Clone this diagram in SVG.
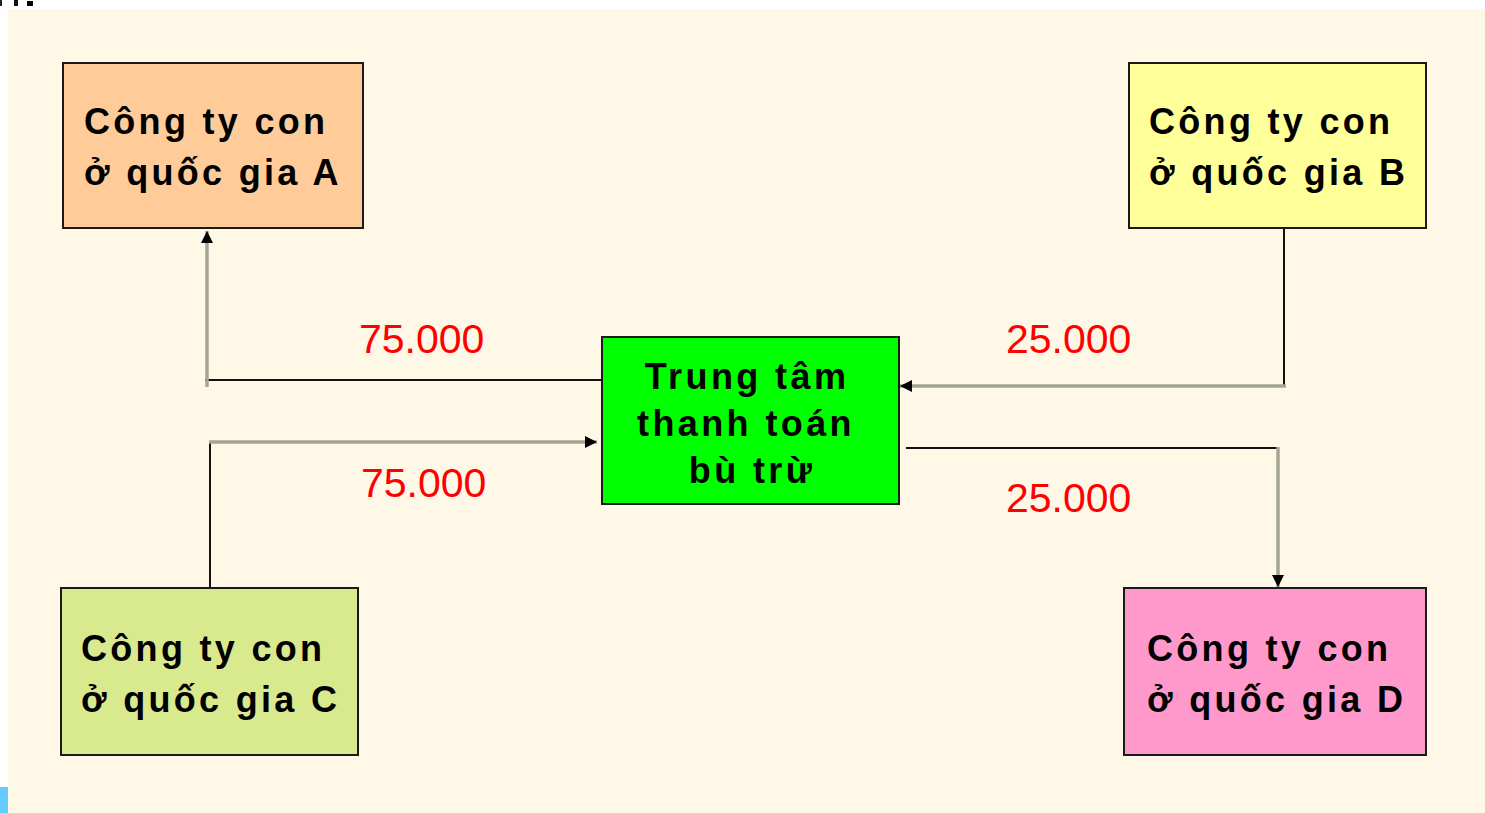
<svg xmlns="http://www.w3.org/2000/svg" width="1485" height="813" viewBox="0 0 1485 813">
<defs>
<style>
.box{stroke:#1a1a1a;stroke-width:2}
.lbl{font-family:"Liberation Sans",Arial,sans-serif;font-weight:bold;font-size:36px;letter-spacing:3.3px;fill:#000}
.ctr{letter-spacing:3.4px}
.num{font-family:"Liberation Sans",Arial,sans-serif;font-size:41px;fill:#FF0000}
.blk{stroke:#111;stroke-width:2;fill:none}
.gry{stroke:#A5A594;stroke-width:3.5;fill:none}
</style>
<marker id="ah" viewBox="0 0 10 10" refX="10" refY="5" markerWidth="12" markerHeight="12" markerUnits="userSpaceOnUse" orient="auto">
<path d="M0,0 L10,5 L0,10 z" fill="#000"/>
</marker>
</defs>
<rect x="0" y="0" width="1485" height="813" fill="#fff"/>
<rect x="8" y="9" width="1477" height="804" fill="#FFF8E6"/>
<rect x="0" y="0" width="2" height="6" fill="#222"/>
<rect x="14" y="0" width="4" height="6" fill="#111"/>
<rect x="27" y="1" width="6" height="5" fill="#000"/>
<rect x="0" y="787" width="8" height="26" fill="#66CCFF"/>

<g id="connectors">
<line class="blk" x1="205" y1="380" x2="602" y2="380"/>
<line class="gry" x1="207" y1="387" x2="207" y2="231" marker-end="url(#ah)"/>
<line class="blk" x1="210" y1="588" x2="210" y2="441"/>
<line class="gry" x1="209" y1="442" x2="597" y2="442" marker-end="url(#ah)"/>
<line class="blk" x1="1284" y1="228" x2="1284" y2="386"/>
<line class="gry" x1="1286" y1="386" x2="900" y2="386" marker-end="url(#ah)"/>
<line class="blk" x1="906" y1="448" x2="1279" y2="448"/>
<line class="gry" x1="1278" y1="447" x2="1278" y2="587" marker-end="url(#ah)"/>
</g>

<g id="nodeA">
<rect class="box" x="63" y="63" width="300" height="165" fill="#FFCC99"/>
<text class="lbl" x="84" y="134">Công ty con</text>
<text class="lbl" x="84" y="185">ở quốc gia A</text>
</g>
<g id="nodeB">
<rect class="box" x="1129" y="63" width="297" height="165" fill="#FFFF99"/>
<text class="lbl" x="1149" y="134">Công ty con</text>
<text class="lbl" x="1149" y="185">ở quốc gia B</text>
</g>
<g id="nodeC">
<rect class="box" x="61" y="588" width="297" height="167" fill="#D9EA8E"/>
<text class="lbl" x="81" y="661">Công ty con</text>
<text class="lbl" x="81" y="712">ở quốc gia C</text>
</g>
<g id="nodeD">
<rect class="box" x="1124" y="588" width="302" height="167" fill="#FF99CC"/>
<text class="lbl" x="1147" y="661">Công ty con</text>
<text class="lbl" x="1147" y="712">ở quốc gia D</text>
</g>
<g id="center">
<rect class="box" x="602" y="337" width="297" height="167" fill="#00FF00"/>
<text class="lbl ctr" x="747" y="389" text-anchor="middle">Trung tâm</text>
<text class="lbl ctr" x="746" y="436" text-anchor="middle">thanh toán</text>
<text class="lbl ctr" x="752" y="483" text-anchor="middle">bù trừ</text>
</g>

<g id="labels">
<text class="num" x="359" y="353">75.000</text>
<text class="num" x="361" y="497">75.000</text>
<text class="num" x="1006" y="353">25.000</text>
<text class="num" x="1006" y="512">25.000</text>
</g>
</svg>
